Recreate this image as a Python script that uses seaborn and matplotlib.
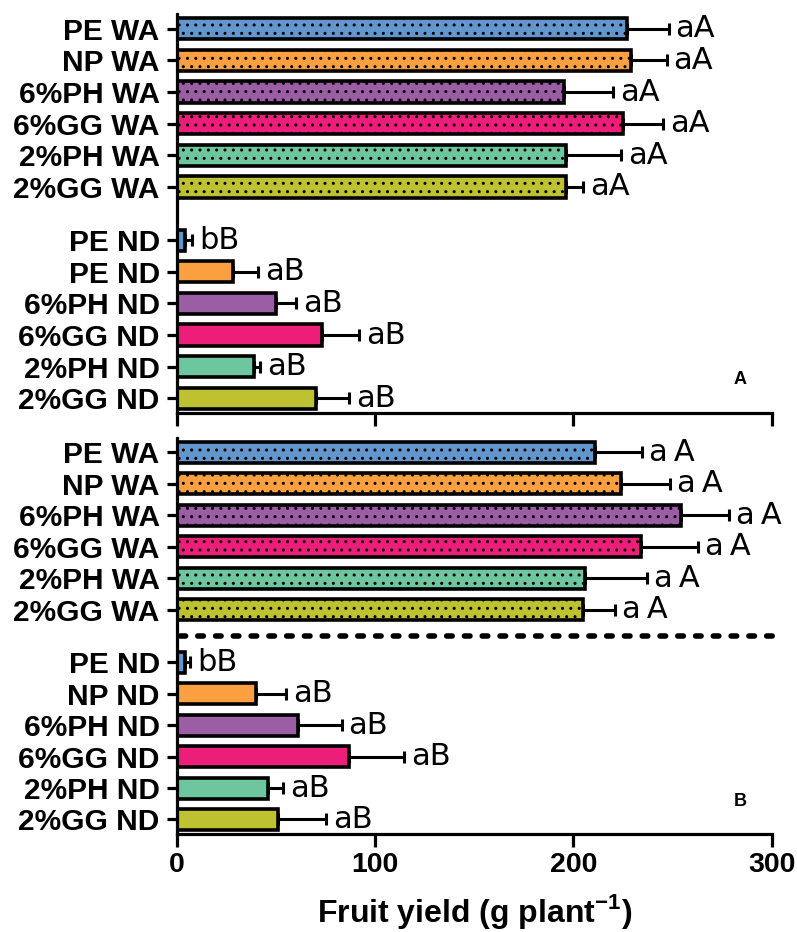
import numpy as np
import pandas as pd
import matplotlib
matplotlib.use('Agg')
from matplotlib import pyplot as plt
import seaborn as sns

# treatment groups (colour order), repeated for WA and ND rows
treatments = ['PE', 'NP', '6%PH', '6%GG', '2%PH', '2%GG']
colors = ['#6396CD', '#FAA041', '#9B5EA4', '#ED1E79', '#6EC69E', '#BEC130']

# panel A
labels_a = ['PE WA', 'NP WA', '6%PH WA', '6%GG WA', '2%PH WA', '2%GG WA',
            'PE ND', 'PE ND', '6%PH ND', '6%GG ND', '2%PH ND', '2%GG ND']
yield_a = [227, 229, 195, 225, 196, 196, 4, 28, 50, 73, 39, 70]
err_a = [21, 18, 25, 20, 28, 9, 3.5, 13, 10, 19, 3, 17]
letters_a = ['aA'] * 6 + ['bB'] + ['aB'] * 5

# panel B
labels_b = ['PE WA', 'NP WA', '6%PH WA', '6%GG WA', '2%PH WA', '2%GG WA',
            'PE ND', 'NP ND', '6%PH ND', '6%GG ND', '2%PH ND', '2%GG ND']
yield_b = [211, 224, 254, 234, 206, 205, 4, 40, 61, 87, 46, 51]
err_b = [23.5, 24.5, 24.5, 29, 31, 16, 2.5, 15, 22, 27.5, 7.5, 24]
letters_b = ['a\u2009A'] * 6 + ['bB'] + ['aB'] * 5

sns.set_style('ticks')
plt.rcParams['font.family'] = ['Liberation Sans', 'DejaVu Sans']
plt.rcParams['mathtext.fontset'] = 'custom'
plt.rcParams['mathtext.bf'] = 'Liberation Sans:bold'
plt.rcParams['mathtext.rm'] = 'Liberation Sans'
plt.rcParams['hatch.linewidth'] = 1.0
for k in ['text.color', 'axes.labelcolor', 'xtick.color', 'ytick.color', 'axes.edgecolor']:
    plt.rcParams[k] = 'black'

# bar slots: WA group then ND group with a wider gap in between
gap = 0.68
pos = [i if i < 6 else i + gap for i in range(12)]


def draw_panel(ax, labels, values, errs, letters, panel):
    df = pd.DataFrame({'pos': pos, 'value': values, 'treatment': treatments * 2})
    sns.barplot(data=df, x='value', y='pos', hue='treatment', hue_order=treatments,
                palette=colors, saturation=1, orient='h', native_scale=True,
                dodge=False, width=0.67, legend=False, edgecolor='black',
                linewidth=2.6, errorbar=None, ax=ax)

    # dotted fill for the WA bars
    for p in ax.patches:
        if p.get_y() + p.get_height() / 2 < 5.5:
            p.set_hatch('..')

    # one-sided error bars
    ax.errorbar(values, pos, xerr=[np.zeros(len(errs)), errs], fmt='none',
                ecolor='black', elinewidth=2.2, capsize=4.5, capthick=2.2, zorder=0.5)

    for v, e, p, t in zip(values, errs, pos, letters):
        ax.text(v + e + 3.5, p, t, ha='left', va='center', fontsize=22,
                family=['DejaVu Sans'])

    ax.set_xlim(0, 300)
    ax.set_ylim(12.14, -0.46)
    ax.set_xticks([0, 100, 200, 300])
    ax.set_yticks(pos)
    ax.set_yticklabels(labels, fontsize=21.5, fontweight='bold')
    ax.set_ylabel('')
    ax.set_xlabel('')
    sns.despine(ax=ax)
    for s in ['left', 'bottom']:
        ax.spines[s].set_linewidth(2.3)
    ax.tick_params(axis='x', length=9, width=2.3, labelsize=20.5, pad=4)
    ax.tick_params(axis='y', length=7.5, width=2.3, pad=5)
    for lab in ax.get_xticklabels():
        lab.set_fontweight('bold')

    ax.text(284, 11.1, panel, ha='center', va='center', fontsize=13, fontweight='bold')


fig = plt.figure(figsize=(7.97, 9.32), dpi=100)
ax_a = fig.add_axes([0.2221, 0.557, 0.7462, 0.4278])
ax_b = fig.add_axes([0.2221, 0.1052, 0.7462, 0.4249])

draw_panel(ax_a, labels_a, yield_a, err_a, letters_a, 'A')
ax_a.tick_params(axis='x', labelbottom=False)

draw_panel(ax_b, labels_b, yield_b, err_b, letters_b, 'B')
sep = 5 + (1 + gap) / 2
ax_b.plot([1.5, 305], [sep, sep], color='black', lw=4, linestyle=(0, (1, 2.2)),
          dash_capstyle='round', clip_on=False)
ax_b.set_xlabel(r'Fruit yield (g plant$^{\mathbf{-1}}$)', fontsize=23,
                fontweight='bold', labelpad=10)

fig.savefig('out.png', dpi=100)
plt.close(fig)
